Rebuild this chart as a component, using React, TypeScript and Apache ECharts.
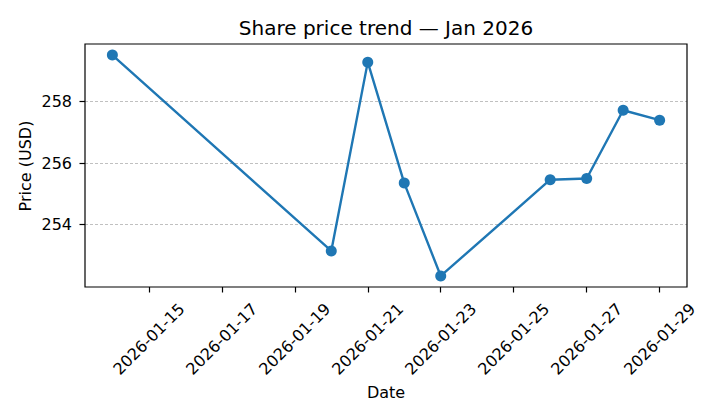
import React, { useEffect, useRef } from "react";
import * as echarts from "echarts";

const dates: string[] = [
  "2026-01-14",
  "2026-01-20",
  "2026-01-21",
  "2026-01-22",
  "2026-01-23",
  "2026-01-26",
  "2026-01-27",
  "2026-01-28",
  "2026-01-29",
];
const prices: number[] = [259.5, 253.15, 259.27, 255.35, 252.34, 255.46, 255.5, 257.71, 257.39];
const xTickLabels: string[] = [
  "2026-01-15",
  "2026-01-17",
  "2026-01-19",
  "2026-01-21",
  "2026-01-23",
  "2026-01-25",
  "2026-01-27",
  "2026-01-29",
];
const yTicks: number[] = [254, 256, 258];

const DAY = 86400000;
const toDay = (s: string) => {
  const [y, m, d] = s.split("-").map(Number);
  return Date.UTC(y, m - 1, d) / DAY;
};
const fromDay = (n: number) => {
  const dt = new Date(Math.round(n) * DAY);
  const y = dt.getUTCFullYear();
  const m = String(dt.getUTCMonth() + 1).padStart(2, "0");
  const d = String(dt.getUTCDate()).padStart(2, "0");
  return `${y}-${m}-${d}`;
};

const FONT = "DejaVu Sans";

export default function App() {
  const ref = useRef<HTMLDivElement>(null);
  useEffect(() => {
    if (!ref.current) return;
    const chart = echarts.init(ref.current, null, { renderer: "svg" });
    const xs = dates.map(toDay);
    const xMinData = Math.min(...xs);
    const xMaxData = Math.max(...xs);
    const xPad = (xMaxData - xMinData) * 0.05;
    const yMinData = Math.min(...prices);
    const yMaxData = Math.max(...prices);
    const yPad = (yMaxData - yMinData) * 0.05;
    const xTickVals = xTickLabels.map(toDay);

    chart.setOption({
      animation: false,
      backgroundColor: "#ffffff",
      textStyle: { fontFamily: FONT },
      grid: {
        left: 85,
        right: 33,
        top: 44,
        bottom: 133,
        containLabel: false,
        outerBoundsMode: "none",
        show: false,
      },
      graphic: [
        {
          type: "text",
          x: 386,
          y: 28,
          style: {
            text: "Share price trend — Jan 2026",
            fontFamily: FONT,
            fontSize: 20,
            fill: "#000",
            align: "center",
            verticalAlign: "middle",
          },
        },
        {
          type: "text",
          x: 386,
          y: 392,
          style: {
            text: "Date",
            fontFamily: FONT,
            fontSize: 16,
            fill: "#000",
            align: "center",
            verticalAlign: "middle",
          },
        },
        {
          type: "text",
          x: 25,
          y: 166,
          rotation: Math.PI / 2,
          style: {
            text: "Price (USD)",
            fontFamily: FONT,
            fontSize: 16,
            fill: "#000",
            align: "center",
            verticalAlign: "middle",
          },
        },
        {
          type: "rect",
          shape: { x: 85, y: 44, width: 602, height: 243 },
          style: { fill: "none", stroke: "#000", lineWidth: 1.2 },
          z: 10,
        },
      ],
      xAxis: {
        type: "value",
        min: xMinData - xPad,
        max: xMaxData + xPad,
        splitLine: { show: false },
        axisLine: { show: false },
        axisTick: {
          show: true,
          customValues: xTickVals,
          length: 5.5,
          lineStyle: { color: "#000", width: 1.2 },
        },
        axisLabel: {
          customValues: xTickVals,
          formatter: (v: number) => fromDay(v),
          rotate: 45,
          align: "center",
          verticalAlign: "middle",
          margin: 52,
          fontFamily: FONT,
          fontSize: 16,
          color: "#000",
        },
      },
      yAxis: {
        type: "value",
        min: yMinData - yPad,
        max: yMaxData + yPad,
        axisLine: { show: false },
        axisTick: {
          show: true,
          customValues: yTicks,
          length: 5.5,
          lineStyle: { color: "#000", width: 1.2 },
        },
        axisLabel: {
          customValues: yTicks,
          formatter: (v: number) => String(Math.round(v)),
          margin: 13,
          fontFamily: FONT,
          fontSize: 16,
          color: "#000",
        },
        splitLine: {
          show: true,
          customValues: yTicks,
          lineStyle: { color: "#b0b0b0", type: [3, 2], width: 0.8 },
        },
      },
      series: [
        {
          type: "line",
          data: xs.map((x, i) => [x, prices[i]]),
          symbol: "circle",
          symbolSize: 11,
          showSymbol: true,
          itemStyle: { color: "#1f77b4" },
          lineStyle: { color: "#1f77b4", width: 2.4 },
          emphasis: { disabled: true },
        },
      ],
    });
    return () => chart.dispose();
  }, []);
  return <div ref={ref} style={{ width: 720, height: 420, position: "absolute", left: 0, top: 0 }} />;
}
